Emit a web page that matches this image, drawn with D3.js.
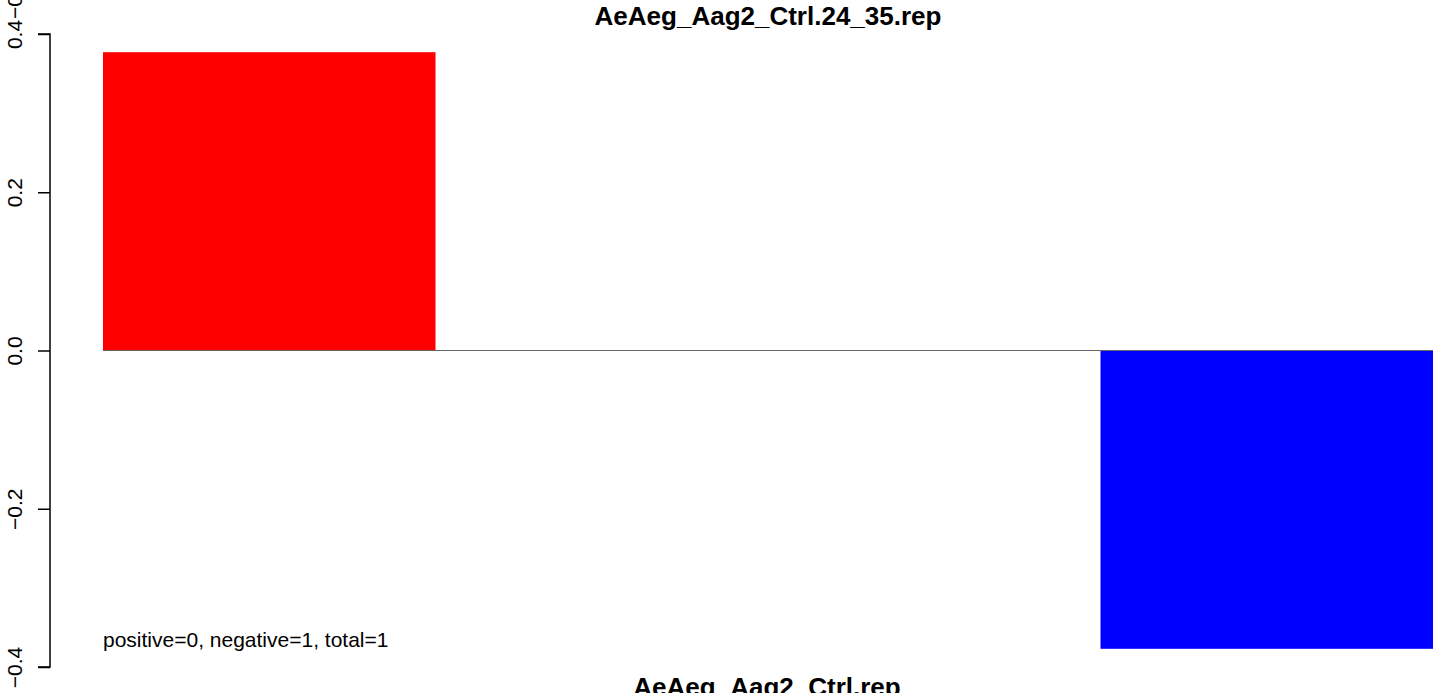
<!DOCTYPE html>
<html>
<head>
<meta charset="utf-8">
<script src="https://cdn.jsdelivr.net/npm/d3@7"></script>
<style>
  body { margin: 0; background: #fff; }
  text { font-family: "Liberation Sans", Arial, sans-serif; }
</style>
</head>
<body>
<div id="chart"></div>
<script>
// Bar slots and their values
var categories = ["s1", "s2", "s3", "s4"];
var values = [0.377, 0, 0, -0.377];
var barColors = ["#ff0000", "#ffffff", "#ffffff", "#0000ff"];
// Y axis ticks
var yTicks = [-0.4, -0.2, 0.0, 0.2, 0.4];
var yTickLabels = ["\u22120.4", "\u22120.2", "0.0", "0.2", "0.4"];
// Texts
var title = "AeAeg_Aag2_Ctrl.24_35.rep";
var xTitle = "AeAeg_Aag2_Ctrl.rep";
var note = "positive=0, negative=1, total=1";
var extraTopLabel = "\u22120.4";

var width = 1444, height = 693;

var svg = d3.select("#chart")
    .append("svg")
    .attr("width", width)
    .attr("height", height);

// Scales
var xScale = d3.scaleBand()
    .domain(categories)
    .range([103, 1433])
    .padding(0);

var yScale = d3.scaleLinear()
    .domain([-0.4, 0.4])
    .range([667, 34]);

// Bars
svg.selectAll("rect.bar")
    .data(values)
    .enter()
    .append("rect")
    .attr("class", "bar")
    .attr("x", function (d, i) { return xScale(categories[i]); })
    .attr("width", xScale.bandwidth())
    .attr("y", function (d) { return yScale(Math.max(0, d)); })
    .attr("height", function (d) { return Math.abs(yScale(d) - yScale(0)); })
    .attr("fill", function (d, i) { return barColors[i]; });

// Zero line across the bars
svg.append("line")
    .attr("x1", xScale.range()[0])
    .attr("x2", xScale.range()[1])
    .attr("y1", yScale(0))
    .attr("y2", yScale(0))
    .attr("stroke", "#666")
    .attr("stroke-width", 1.2);

// Y axis
var yAxis = d3.axisLeft(yScale)
    .tickValues(yTicks)
    .tickSize(12)
    .tickFormat(function (d, i) { return yTickLabels[i]; });

var gy = svg.append("g")
    .attr("transform", "translate(50,0)")
    .call(yAxis);

gy.select(".domain")
    .attr("d", "M-12," + yScale(0.4) + "H0V" + yScale(-0.4) + "H-12")
    .attr("stroke", "#000")
    .attr("stroke-width", 1.5);
gy.selectAll(".tick line").remove();
gy.selectAll(".tick").append("line")
    .attr("x1", -12).attr("x2", 0)
    .attr("stroke", "#000").attr("stroke-width", 1.5);
gy.selectAll(".tick text")
    .attr("x", 0).attr("dy", 0)
    .attr("transform", "translate(-28,0) rotate(-90)")
    .attr("text-anchor", "middle")
    .attr("font-size", 21)
    .attr("font-family", "Liberation Sans, Arial, sans-serif")
    .attr("fill", "#000");

// stray label above the top tick
svg.append("text")
    .attr("transform", "translate(22,19) rotate(-90)")
    .attr("text-anchor", "start")
    .attr("font-size", 21)
    .text(extraTopLabel);

// Title
svg.append("text")
    .attr("x", 768)
    .attr("y", 25)
    .attr("text-anchor", "middle")
    .attr("font-weight", "bold")
    .attr("font-size", 26)
    .text(title);

// X title (partly outside the picture)
svg.append("text")
    .attr("x", 767)
    .attr("y", 696)
    .attr("text-anchor", "middle")
    .attr("font-weight", "bold")
    .attr("font-size", 26)
    .text(xTitle);

// Count note
svg.append("text")
    .attr("x", 103)
    .attr("y", 647)
    .attr("font-size", 21)
    .text(note);
</script>
</body>
</html>
